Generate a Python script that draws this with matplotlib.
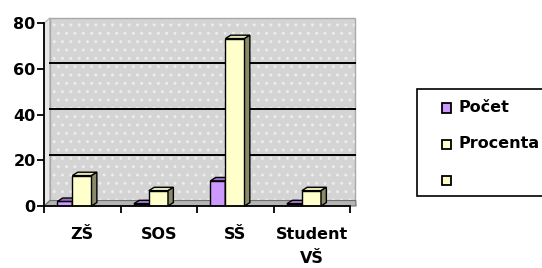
import matplotlib
matplotlib.use("Agg")
import matplotlib.pyplot as plt
from matplotlib.patches import Rectangle, Polygon

categories = ["ZŠ", "SOS", "SŠ", "Student\nVŠ"]
pocet = [2, 1, 11, 1]
procenta = [13.3, 6.7, 73.3, 6.7]
series_names = ["Počet", "Procenta", ""]
yticks = [0, 20, 40, 60, 80]

plt.rcParams["hatch.linewidth"] = 1.0
FONT = "DejaVu Sans"
FS = 11.5
W, H = 542, 268
fig = plt.figure(figsize=(W / 100, H / 100), dpi=100)
ax = fig.add_axes([44 / W, (268 - 206) / H, 306 / W, 182.7 / H])
ax.set_xlim(0, 4)
ax.set_ylim(0, 80)

# 3D frame geometry (data units)
dxw, dyw = 0.078, 2.4
xr = 4.065
left_wall = Polygon([(0, 0), (dxw, dyw), (dxw, 80 + dyw), (0, 80)], closed=True,
                    facecolor="#e8e8e8", edgecolor="#b0b0b0", lw=0.8, clip_on=False, zorder=0)
ax.add_patch(left_wall)
wall = Rectangle((dxw, dyw), xr - dxw, 80, facecolor="#d4d4d4", edgecolor="none",
                 lw=0, clip_on=False, zorder=0)
ax.add_patch(wall)
wall_tex = Rectangle((dxw, dyw), xr - dxw, 80, facecolor="none", edgecolor="#ececec",
                     lw=0, hatch="..", clip_on=False, zorder=0.1)
ax.add_patch(wall_tex)
wall_edge = Rectangle((dxw, dyw), xr - dxw, 80, facecolor="none", edgecolor="#a8a8a8",
                      lw=1.0, clip_on=False, zorder=0.2)
ax.add_patch(wall_edge)
floor = Polygon([(0, 0), (4.08, 0), (xr + 0.01, dyw), (dxw, dyw)], closed=True,
                facecolor="#b4b4b4", edgecolor="#707070", lw=0.8, clip_on=False, zorder=0.5)
ax.add_patch(floor)

for v in yticks[1:-1]:
    ax.plot([dxw, xr], [v + dyw, v + dyw], color="black", lw=1.4, zorder=1, clip_on=False)

# bars
dxb, dyb = 0.07, 1.5
w1, w2, off = 0.196, 0.25, 0.175
styles = [("#cc99ff", "#9a70c8", "#6b4f8a"), ("#ffffcc", "#e4e4b4", "#8a8a6a")]
for i in range(len(categories)):
    for s, (vals, x0, w) in enumerate([(pocet, i + off, w1), (procenta, i + off + w1, w2)]):
        v = vals[i]
        front, top, side = styles[s]
        z = 2 + i * 0.1 + s * 0.01
        ax.bar(x0, v, width=w, align="edge", color=front, edgecolor="black", lw=1.0, zorder=z)
        ax.add_patch(Polygon([(x0, v), (x0 + dxb, v + dyb), (x0 + w + dxb, v + dyb), (x0 + w, v)],
                             closed=True, facecolor=top, edgecolor="black", lw=1.0, zorder=z, clip_on=False))
        ax.add_patch(Polygon([(x0 + w, 0), (x0 + w, v), (x0 + w + dxb, v + dyb), (x0 + w + dxb, dyb)],
                             closed=True, facecolor=side, edgecolor="black", lw=1.0, zorder=z, clip_on=False))

for sp in ["top", "right"]:
    ax.spines[sp].set_visible(False)
for sp in ["left", "bottom"]:
    ax.spines[sp].set_linewidth(1.3)
    ax.spines[sp].set_zorder(5)

ax.set_yticks(yticks)
ax.set_yticklabels([str(t) for t in yticks], fontfamily=FONT, fontweight="bold", fontsize=FS)
ax.tick_params(axis="y", direction="out", length=5, width=1.3, pad=1)
ax.set_xticks(range(5))
ax.set_xticklabels([])
ax.tick_params(axis="x", which="major", direction="out", length=5, width=1.3)
ax.set_xticks([i + 0.5 for i in range(4)], minor=True)
ax.set_xticklabels(categories, minor=True, fontfamily=FONT, fontweight="bold", fontsize=FS,
                   linespacing=1.75)
ax.tick_params(axis="x", which="minor", length=0, pad=15)
for lbl in ax.get_xticklabels(minor=True):
    lbl.set_verticalalignment("top")

# legend (manual)
lx0, ly0, lx1, ly1 = 417, 89, 560, 196
fig.patches.append(Rectangle((lx0 / W, 1 - ly1 / H), (lx1 - lx0) / W, (ly1 - ly0) / H,
                             transform=fig.transFigure, facecolor="white", edgecolor="black",
                             lw=1.2, figure=fig))
leg_cols = ["#cc99ff", "#ffffcc", "#ffffcc"]
leg_y = [108, 144, 180]
for name, c, y in zip(series_names, leg_cols, leg_y):
    fig.patches.append(Rectangle((442 / W, 1 - (y + 4.5) / H), 9 / W, 9 / H, transform=fig.transFigure,
                                 facecolor=c, edgecolor="black", lw=1.3, figure=fig))
    fig.text(459 / W, 1 - y / H, name, fontfamily=FONT, fontweight="bold", fontsize=FS,
             va="center", ha="left")

fig.savefig("out.png", dpi=100)
